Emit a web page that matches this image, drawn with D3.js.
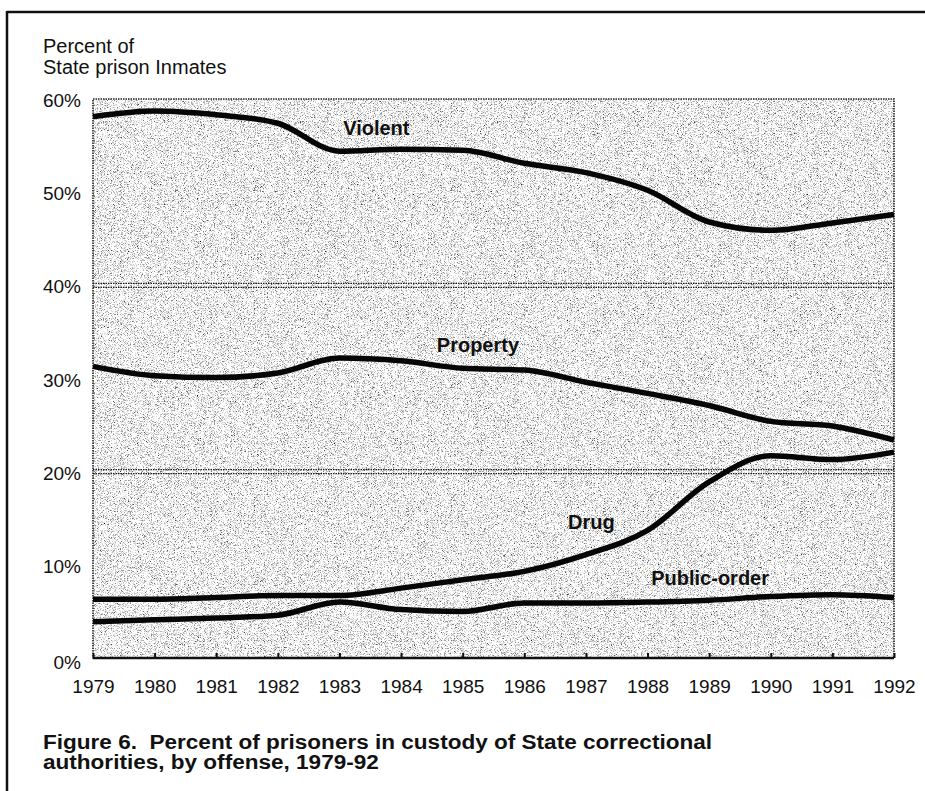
<!DOCTYPE html>
<html>
<head>
<meta charset="utf-8">
<script src="https://cdn.jsdelivr.net/npm/d3@7"></script>
<style>
  body { margin: 0; background: #fff; }
  svg { display: block; font-family: "Liberation Sans", Arial, sans-serif; }
</style>
</head>
<body>
<svg id="chart" width="925" height="791"></svg>
<script>
// years on the x axis
const years = [1979, 1980, 1981, 1982, 1983, 1984, 1985, 1986, 1987, 1988, 1989, 1990, 1991, 1992];

// percent of state prison inmates
const violent     = [58.1, 58.7, 58.3, 57.4, 54.4, 54.6, 54.5, 53.1, 52.1, 50.2, 46.8, 45.9, 46.7, 47.6];
const property    = [31.3, 30.3, 30.1, 30.6, 32.2, 31.9, 31.1, 30.9, 29.6, 28.4, 27.1, 25.4, 24.9, 23.4];
const drug        = [6.3, 6.3, 6.5, 6.7, 6.7, 7.5, 8.4, 9.3, 11.1, 13.7, 18.9, 21.7, 21.3, 22.1];
const publicOrder = [3.9, 4.1, 4.3, 4.6, 6.0, 5.2, 5.0, 5.9, 5.9, 6.0, 6.2, 6.6, 6.8, 6.5];

const yTicks = [0, 10, 20, 30, 40, 50, 60];
const gridTicks = [20, 40];

const series = [
  { name: "Violent", values: violent, labelAt: [1983.06, 56.1] },
  { name: "Property", values: property, labelAt: [1984.58, 32.8] },
  { name: "Drug", values: drug, labelAt: [1986.71, 13.8] },
  { name: "Public-order", values: publicOrder, labelAt: [1988.06, 7.8] }
];

const svg = d3.select("#chart");
const mLeft = 93, mRight = 894, mTop = 99, mBottom = 658;

const x = d3.scaleLinear().domain([1979, 1992]).range([mLeft, mRight]);
const y = d3.scaleLinear().domain([0, 60]).range([mBottom, mTop]);

// outer frame of the page box
svg.append("line").attr("x1", 7).attr("x2", 925).attr("y1", 12).attr("y2", 12)
  .attr("stroke", "#111").attr("stroke-width", 2.5);
svg.append("line").attr("x1", 7).attr("x2", 7).attr("y1", 11).attr("y2", 791)
  .attr("stroke", "#111").attr("stroke-width", 2.5);

// halftone-ish stipple for the plot background (noise filter)
const defs = svg.append("defs");
const filt = defs.append("filter").attr("id", "stipple")
  .attr("x", 0).attr("y", 0).attr("width", 1).attr("height", 1)
  .attr("color-interpolation-filters", "sRGB");
filt.append("feTurbulence")
  .attr("type", "fractalNoise").attr("baseFrequency", 1.3)
  .attr("numOctaves", 2).attr("seed", 7).attr("result", "noise");
filt.append("feColorMatrix").attr("type", "matrix")
  .attr("values", "0.34 0.33 0.33 0 0  0.34 0.33 0.33 0 0  0.34 0.33 0.33 0 0  0 0 0 0 1");
const ct = filt.append("feComponentTransfer");
["feFuncR", "feFuncG", "feFuncB"].forEach(f =>
  ct.append(f).attr("type", "linear").attr("slope", 3.4).attr("intercept", -0.72));

svg.append("rect")
  .attr("x", mLeft).attr("y", mTop)
  .attr("width", mRight - mLeft).attr("height", mBottom - mTop)
  .attr("fill", "#c8c8c8")
  .attr("filter", "url(#stipple)");

svg.append("rect")
  .attr("x", mLeft).attr("y", mTop)
  .attr("width", mRight - mLeft).attr("height", mBottom - mTop)
  .attr("fill", "none")
  .attr("stroke", "#222").attr("stroke-width", 1.6)
  .attr("stroke-dasharray", "1.5,1");

// gridlines at 20% and 40%, doubled dotted rules
const grid = svg.append("g");
gridTicks.forEach(t => {
  [-2, 2].forEach(off => {
    grid.append("line")
      .attr("x1", mLeft).attr("x2", mRight)
      .attr("y1", y(t) + off).attr("y2", y(t) + off)
      .attr("stroke", "#1a1a1a").attr("stroke-width", 1.4)
      .attr("stroke-dasharray", "1.5,1");
  });
});

// y axis
const yAxis = d3.axisLeft(y).tickValues(yTicks).tickSize(0).tickPadding(12)
  .tickFormat(d => d + "%");
svg.append("g")
  .attr("transform", `translate(${mLeft},0)`)
  .call(yAxis)
  .call(g => g.select(".domain").remove())
  .call(g => g.selectAll("text")
    .attr("font-size", 19).attr("fill", "#111").attr("dy", "0.4em")
    .attr("font-family", "Liberation Sans, Arial, sans-serif"))
  .call(g => g.selectAll(".tick").filter(d => d === 0).select("text").attr("dy", "0.55em"));

// x axis with small bumps at each year
const xAxis = d3.axisBottom(x).tickValues(years).tickSize(-5).tickPadding(22)
  .tickFormat(d3.format("d"));
svg.append("g")
  .attr("transform", `translate(0,${mBottom})`)
  .call(xAxis)
  .call(g => g.select(".domain").attr("stroke", "#111").attr("stroke-width", 2.5).attr("d", `M${mLeft},0H${mRight}`))
  .call(g => g.selectAll(".tick line").attr("stroke", "#111").attr("stroke-width", 2))
  .call(g => g.selectAll("text")
    .attr("font-size", 19).attr("fill", "#111")
    .attr("font-family", "Liberation Sans, Arial, sans-serif"));

// the four series
const line = d3.line()
  .x((d, i) => x(years[i]))
  .y(d => y(d))
  .curve(d3.curveMonotoneX);

svg.append("g").selectAll("path.series")
  .data(series)
  .join("path")
  .attr("class", "series")
  .attr("d", d => line(d.values))
  .attr("fill", "none")
  .attr("stroke", "#050505")
  .attr("stroke-width", 5.5)
  .attr("stroke-linejoin", "round")
  .attr("stroke-linecap", "butt");

svg.append("g").selectAll("text.lbl")
  .data(series)
  .join("text")
  .attr("class", "lbl")
  .attr("x", d => x(d.labelAt[0]))
  .attr("y", d => y(d.labelAt[1]))
  .attr("font-size", 20)
  .attr("font-weight", "bold")
  .attr("fill", "#111")
  .text(d => d.name);

// axis title
const ttl = svg.append("text").attr("font-size", 20).attr("fill", "#111");
ttl.append("tspan").attr("x", 43).attr("y", 53).text("Percent of");
ttl.append("tspan").attr("x", 43).attr("y", 74).text("State prison Inmates");

// figure caption, squeezed a little like the condensed original
const cap = svg.append("text").attr("font-size", 20).attr("font-weight", "bold")
  .attr("fill", "#111").style("white-space", "pre");
const c1 = cap.append("tspan").attr("x", 43).attr("y", 749)
  .text("Figure 6.  Percent of prisoners in custody of State correctional");
const c2 = cap.append("tspan").attr("x", 43).attr("y", 769)
  .text("authorities, by offense, 1979-92");
const squeeze = 669 / c1.node().getComputedTextLength();
c1.attr("textLength", 669).attr("lengthAdjust", "spacingAndGlyphs");
c2.attr("textLength", c2.node().getComputedTextLength() * squeeze).attr("lengthAdjust", "spacingAndGlyphs");
</script>
</body>
</html>
